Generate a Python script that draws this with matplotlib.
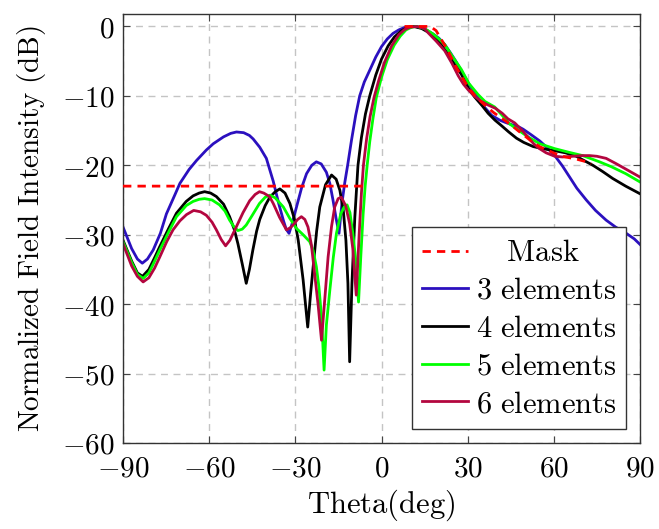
import numpy as np
import matplotlib
matplotlib.use("Agg")
import matplotlib.pyplot as plt

plt.rcParams['mathtext.fontset'] = 'cm'
plt.rcParams['font.family'] = ['serif']

# ---------------- data ----------------
theta_3 = [-90, -87, -85, -83.3, -81.5, -79.5, -77, -74.9, -72, -70.2, -67, -64.4, -61, -58.6, -55, -52.5,
           -50.5, -48, -46, -44.7, -42.4, -40.1, -37.7, -35.8, -34.2, -33.2, -32.2, -31.2, -29.6, -27.8,
           -26.1, -24.3, -22.7, -21, -19.2, -18, -16.9, -15.8, -14.8, -13.8, -12.8, -11.8, -10.5, -9,
           -7.6, -6, -4.1, -2, 0, 2, 4, 6, 8, 11.5, 14, 16, 18, 20, 22, 24, 26, 27.8, 30, 32, 33.6,
           36, 38.3, 41.2, 43, 45, 47.5, 49.3, 52.1, 55.1, 57.5, 60.3, 63, 65.5, 68, 71.3, 74.5, 78.2,
           81.5, 85.2, 88, 90]
db_3 = [-28.9, -32.0, -33.5, -34.1, -33.5, -32.2, -29.8, -27.0, -24.3, -22.6, -20.6, -19.3, -17.8, -16.9,
        -15.9, -15.4, -15.2, -15.3, -15.7, -16.2, -17.4, -19.0, -22.3, -25.5, -27.9, -29.2, -29.8, -28.5,
        -26.0, -23.2, -21.2, -20.0, -19.5, -19.8, -21.0, -22.6, -25.0, -27.7, -29.8, -25.5, -22.5, -20.0,
        -16.5, -12.8, -10.0, -8.0, -6.3, -4.4, -2.9, -1.8, -1.0, -0.5, -0.15, 0.0, -0.2, -0.6, -1.1, -1.7,
        -2.6, -3.8, -5.1, -6.4, -8.0, -9.3, -10.3, -11.7, -12.8, -13.5, -13.8, -14.1, -14.4, -14.8, -15.6,
        -16.5, -17.4, -18.6, -20.1, -21.7, -23.3, -25.0, -26.5, -27.9, -28.9, -29.8, -30.6, -31.4]

theta_4 = [-90, -87, -85, -83.2, -81, -79, -77.2, -74, -71.4, -68, -65.6, -63.5, -61.6, -59.5, -57.5, -55,
           -52.9, -51.3, -50, -48.5, -47.1, -46, -44.8, -43.5, -42.4, -40.5, -38.9, -37, -35.4, -33.6,
           -31.9, -30.3, -29.0, -27.3, -25.7, -24.7, -23.8, -22.6, -21.5, -19.5, -17.4, -15.8, -14.5, -13.3,
           -12.4, -11.7, -11.1, -10.3, -9.3, -8.2, -7.0, -5.6, -4.1, -2, 0, 2.3, 4.5, 7, 9, 11.3, 14, 17,
           20, 23, 25.5, 27.8, 30.4, 32.5, 35, 37.1, 39.5, 41.8, 44.3, 47, 49.5, 52.8, 56, 60.3, 64, 67.8,
           70, 73.6, 77, 80.5, 85, 90]
db_4 = [-30.8, -33.8, -35.5, -36.0, -35.0, -33.3, -31.7, -29.0, -26.9, -25.2, -24.4, -24.0, -23.8, -24.0,
        -24.5, -25.6, -27.4, -29.2, -31.3, -34.2, -37.0, -35.0, -32.2, -29.5, -27.8, -25.8, -24.6, -23.8,
        -23.4, -24.0, -25.5, -27.8, -30.8, -36.5, -43.3, -38.5, -34.6, -29.5, -26.0, -22.8, -21.4, -22.0,
        -23.6, -26.5, -30.8, -37.0, -48.3, -37.0, -27.5, -20.0, -16.0, -12.6, -10.0, -7.0, -4.7, -2.8,
        -1.5, -0.6, -0.15, 0.0, -0.3, -1.0, -2.2, -3.9, -5.5, -6.9, -9.0, -10.2, -11.4, -12.5, -13.5,
        -14.3, -15.2, -16.1, -16.7, -17.3, -17.6, -17.9, -18.2, -18.7, -19.2, -20.0, -20.9, -21.9, -23.0,
        -24.1]

theta_5 = [-90, -87, -85, -83, -81, -79, -77.2, -74, -71.4, -68, -65.6, -63.5, -61.6, -59, -56.4, -54.5,
           -52.9, -51.3, -50, -48.5, -47.1, -45, -42.5, -40.5, -38.8, -37, -35.5, -34.2, -32, -29.6,
           -27.3, -25, -23.8, -22.7, -21.8, -20.9, -20.0, -19.2, -18.0, -16.8, -15.7, -14.2, -13, -12,
           -11, -10, -9, -8, -7.2, -6.4, -5.7, -5.0, -4.1, -3.0, -1.8, 0, 2, 4.4, 6.5, 8.5, 10.5, 12.4,
           15, 18, 20, 22, 24.5, 27.8, 30.4, 33.6, 36, 39.4, 42, 44.5, 47.5, 51, 55.1, 60.3, 65, 70,
           75.9, 80, 85, 90]
db_5 = [-31.0, -34.0, -35.7, -36.3, -35.5, -33.8, -32.2, -29.5, -27.4, -25.8, -25.2, -24.9, -24.8, -25.0,
        -25.7, -26.6, -27.9, -28.9, -29.4, -29.2, -28.6, -27.2, -25.5, -24.6, -24.3, -24.7, -25.4, -26.0,
        -27.6, -29.1, -30.0, -31.0, -32.3, -34.6, -37.5, -41.8, -49.5, -43.0, -38.0, -33.3, -29.8, -27.0,
        -26.0, -25.7, -26.8, -29.8, -33.5, -39.7, -33.0, -27.0, -23.0, -20.0, -16.6, -13.3, -10.2, -7.3,
        -4.8, -2.7, -1.4, -0.5, -0.1, 0.0, -0.3, -1.1, -1.8, -2.6, -4.2, -6.2, -8.2, -9.8, -10.8, -11.6,
        -12.8, -14.0, -14.9, -15.9, -16.9, -17.6, -18.1, -18.6, -19.5, -20.2, -21.2, -22.4]

theta_6 = [-90, -87, -85, -83, -81, -79, -77.2, -74.8, -72.6, -70.2, -67.9, -65.4, -63, -61, -59, -57.5,
           -55.8, -54.3, -52.8, -50.6, -48.2, -45.9, -44, -42.5, -41, -39, -37.7, -35.5, -33.1, -31.8,
           -30.8, -29.2, -27.9, -26.7, -25.6, -24.4, -23.3, -22.1, -20.9, -19.8, -18.6, -17.4, -16.3,
           -15.1, -14, -12.5, -11.1, -10, -8.8, -7.8, -7.0, -6.3, -5.2, -4.0, -2.6, -1, 1, 3.5, 6, 8,
           10, 12.4, 15, 16.2, 19, 22, 24.5, 26.7, 28.5, 30.1, 32.5, 34.8, 37, 39.7, 42, 44, 46.4, 49,
           51.3, 53, 55, 57.3, 60.3, 63, 66.6, 70, 72.4, 75, 78.2, 81.4, 84, 87, 90]
db_6 = [-31.3, -34.5, -36.0, -36.8, -36.2, -34.8, -33.2, -31.0, -29.3, -28.0, -27.1, -26.5, -26.7, -27.2,
        -28.2, -29.3, -30.7, -31.6, -30.8, -28.9, -26.8, -25.1, -24.2, -23.8, -24.0, -24.5, -25.5, -27.5,
        -29.3, -29.0, -28.6, -27.8, -27.4, -27.8, -28.9, -31.5, -35.6, -40.0, -45.2, -39.5, -33.2, -28.8,
        -26.0, -24.8, -24.6, -25.8, -28.4, -32.0, -38.7, -30.0, -24.0, -20.0, -16.2, -13.0, -10.2, -7.8,
        -5.2, -2.8, -1.2, -0.45, -0.1, 0.0, -0.3, -0.9, -2.1, -3.5, -5.3, -7.1, -8.3, -9.1, -10.1, -10.8,
        -11.3, -11.8, -12.5, -13.3, -13.9, -15.0, -16.1, -16.9, -17.6, -18.2, -18.7, -18.8, -18.7, -18.6,
        -18.6, -18.7, -19.0, -19.7, -20.3, -21.0, -21.7]

mask_theta = [-90, -6, np.nan, 8, 17, 19, 21, 23, 25.5, 28, 30.4, 33, 35.9, 39, 42.8, 45.5, 47.5, 50,
              52.1, 55, 58.2, 61, 64, 67.8, 70.5, 73]
mask_db = [-23, -23, np.nan, 0, 0, -0.6, -2.0, -3.4, -5.5, -7.3, -8.9, -10.2, -11.3, -12.4, -13.5, -14.3,
           -15.0, -15.8, -16.5, -17.3, -17.9, -18.4, -18.8, -19.1, -19.4, -19.8]

series = [
    (theta_3, db_3, '#2b10bf', r'$\mathrm{3\ elements}$'),
    (theta_4, db_4, '#000000', r'$\mathrm{4\ elements}$'),
    (theta_5, db_5, '#00ff00', r'$\mathrm{5\ elements}$'),
    (theta_6, db_6, '#b3063f', r'$\mathrm{6\ elements}$'),
]
x_ticks = [-90, -60, -30, 0, 30, 60, 90]
y_ticks = [0, -10, -20, -30, -40, -50, -60]

# ---------------- figure ----------------
fig = plt.figure(figsize=(6.59, 5.29), dpi=100)
ax = fig.add_axes([0.1867, 0.1626, 0.7845, 0.811])

fs = 21
ax.plot(mask_theta, mask_db, color='#ff0000', lw=2.0, linestyle=(0, (3, 2.2)),
        label=r'$\hspace{1.15}\mathrm{Mask}$', zorder=3)
for th, db, col, lab in series:
    ax.plot(th, db, color=col, lw=2.0, label=lab, zorder=2)

ax.set_xlim(-90, 90)
ax.set_ylim(-60, 1.8)
ax.set_xticks(x_ticks)
ax.set_xticklabels([f'${v}$' for v in x_ticks])
ax.set_yticks(y_ticks)
ax.set_yticklabels([f'${v}$' for v in y_ticks])
ax.grid(True, color='#c4c4c4', linestyle=(0, (5, 4)), lw=1.0)
ax.set_axisbelow(True)
ax.tick_params(direction='in', length=5, width=0.8, color='#444444', labelsize=fs,
               top=True, right=True)
ax.tick_params(axis='x', pad=8)
ax.tick_params(axis='y', pad=6)
for s in ax.spines.values():
    s.set_color('#333333')
    s.set_linewidth(1.0)

ax.set_xlabel(r'$\mathrm{Theta(deg)}$', fontsize=22, labelpad=4)
ax.set_ylabel(r'$\mathrm{Normalized\ Field\ Intensity\ (dB)}$', fontsize=21, labelpad=10)

leg = ax.legend(loc='lower right', fontsize=22, fancybox=False, framealpha=1,
                edgecolor='#333333', handlelength=1.5, handletextpad=0.25,
                labelspacing=0.22, borderpad=0.33, borderaxespad=0.45)
leg.get_frame().set_linewidth(1.0)

fig.savefig('out.png', dpi=100)
